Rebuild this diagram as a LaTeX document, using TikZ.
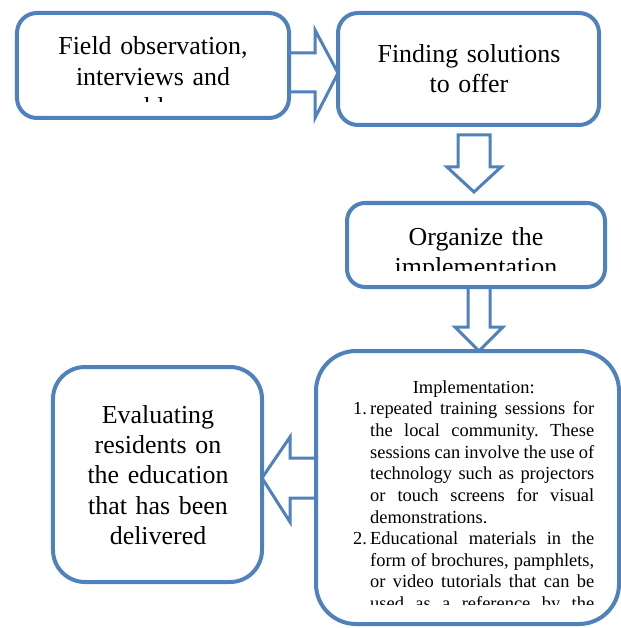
\documentclass[tikz,border=0pt]{standalone}
\usepackage{fontspec}
\setmainfont{Liberation Serif}
\usetikzlibrary{calc}
\definecolor{blu}{HTML}{4F81BD}
\pgfdeclarelayer{bg}
\pgfsetlayers{bg,main}
\tikzset{
  box/.style={draw=blu, line width=4bp, fill=white, rounded corners=#1, inner sep=0pt, outer sep=0pt},
  blockarr/.style={draw=blu, line width=3bp, fill=white, line join=miter},
  bigtext/.style={font=\fontsize{26}{30.5}\selectfont, text width=260bp, align=center, inner sep=0pt, anchor=base},
  listtext/.style={font=\fontsize{18.5}{21.7}\selectfont, text width=241bp, align=justify, inner sep=0pt, anchor=base west}
}
\begin{document}
\frenchspacing
\begin{tikzpicture}[x=1bp,y=-1bp]
\useasboundingbox (0,0) rectangle (621,628);

% boxes
\node[box=20bp, minimum width=272bp, minimum height=105bp] (b1) at (153,65.5) {};
\node[box=20bp, minimum width=261bp, minimum height=112bp] (b2) at (468.5,69) {};
\node[box=18bp, minimum width=258bp, minimum height=84bp] (b3) at (476,245) {};
\node[box=40bp, minimum width=303bp, minimum height=273bp] (b4) at (467.5,487.5) {};
\node[box=32bp, minimum width=209bp, minimum height=215bp] (b5) at (157.5,474.5) {};

% block arrows (behind boxes)
\begin{pgfonlayer}{bg}
\draw[blockarr] (b1.east |- 0,53) -- (315,53) -- (315,30) -- (b2.west |- 0,73)
  -- (315,118) -- (315,92) -- (b1.east |- 0,92) -- cycle;
\coordinate (a2top) at (474,135);
\coordinate (a2tip) at (474,192);
\draw[blockarr] ($(a2top)+(-16,0)$) -- ($(a2top)+(16,0)$) -- (490,167) -- (501,167)
  -- (a2tip) -- (447,167) -- (458,167) -- cycle;
\draw[blockarr] (468,0 |- b3.south) -- (490,0 |- b3.south) -- (490,327) -- (503,327)
  -- (479,0 |- b4.north) -- (455,327) -- (468,327) -- cycle;
\draw[blockarr] (b4.west |- 0,458) -- (290,458) -- (290,437) -- (b5.east |- 0,478)
  -- (290,522) -- (290,498) -- (b4.west |- 0,498) -- cycle;
\end{pgfonlayer}

% texts (clipped as in the reference)
\begin{scope}
\clip (25,18) rectangle (282,102);
\node[bigtext] (t1) at (153,55) {Field observation,\\interviews and\\problem};
\end{scope}

\node[bigtext] (t2) at (469,62.5) {Finding solutions\\to offer};

\begin{scope}
\clip (352,208) rectangle (600,270);
\node[bigtext] (t3) at (476,245) {Organize the\\implementation};
\end{scope}

\node[bigtext, text width=200bp] (t5) at (158,423) {Evaluating\\residents on\\the education\\that has been\\delivered};

\begin{scope}
\clip (325,360) rectangle (612,604);
\node[listtext] (t4) at (353,393.3) {\frenchspacing\hyphenpenalty=10000 \exhyphenpenalty=10000 \tolerance=10000
{\centering Implementation:\par}
\hangindent=17bp \hangafter=1 \noindent\makebox[17bp][l]{1.}repeated training sessions for\break
the local community. These\break
sessions can involve the use of\break
technology such as projectors\break
or touch screens for visual\break
demonstrations.\par
\hangindent=17bp \hangafter=1 \noindent\makebox[17bp][l]{2.}Educational materials in the\break
form of brochures, pamphlets,\break
or video tutorials that can be\break
used as a reference by the\break\par};
\end{scope}
\end{tikzpicture}
\end{document}
